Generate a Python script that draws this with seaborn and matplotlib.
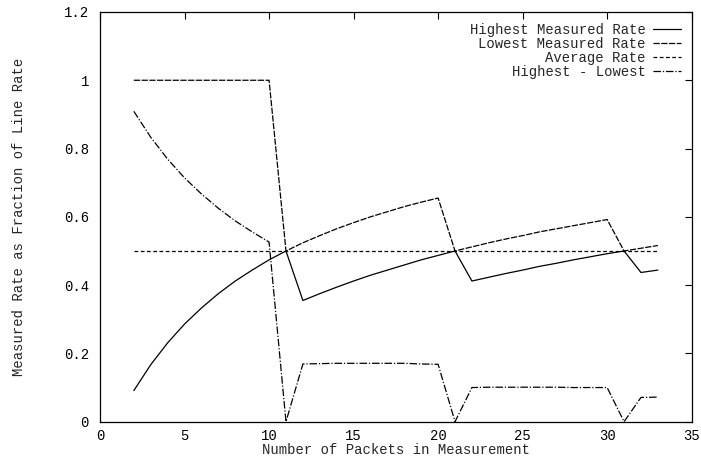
"""
Measured rate vs. number of packets in the measurement.
"""

import matplotlib
matplotlib.use('Agg')
import matplotlib.pyplot as plt
import seaborn as sns
import pandas as pd

# Data (labels as the legend shows them)
packets = list(range(2, 34))

highest_rate = [0.091, 0.167, 0.231, 0.286, 0.333, 0.375, 0.412, 0.444, 0.474, 0.500,
                0.355, 0.375, 0.394, 0.412, 0.429, 0.444, 0.459, 0.474, 0.487, 0.500,
                0.412, 0.423, 0.434, 0.444, 0.455, 0.464, 0.474, 0.483, 0.492, 0.500,
                0.437, 0.444]
lowest_rate = [1.0, 1.0, 1.0, 1.0, 1.0, 1.0, 1.0, 1.0, 1.0, 0.500,
               0.524, 0.545, 0.565, 0.583, 0.600, 0.615, 0.630, 0.643, 0.655, 0.500,
               0.512, 0.524, 0.535, 0.545, 0.556, 0.565, 0.574, 0.583, 0.592, 0.500,
               0.508, 0.516]
average_rate = [0.5] * 32
difference = [0.909, 0.833, 0.769, 0.714, 0.667, 0.625, 0.588, 0.556, 0.526, 0.0,
              0.169, 0.170, 0.171, 0.171, 0.171, 0.171, 0.171, 0.169, 0.168, 0.0,
              0.100, 0.101, 0.101, 0.101, 0.101, 0.101, 0.100, 0.100, 0.100, 0.0,
              0.071, 0.072]

x_ticks = [0, 5, 10, 15, 20, 25, 30, 35]
y_ticks = [0, 0.2, 0.4, 0.6, 0.8, 1.0, 1.2]
y_tick_labels = ['0', '0.2', '0.4', '0.6', '0.8', '1', '1.2']

df = pd.DataFrame({
    'packets': packets,
    'highest': highest_rate,
    'lowest': lowest_rate,
    'average': average_rate,
    'diff': difference,
})

sns.set_style('white')
plt.rcParams['font.family'] = ['Liberation Mono', 'DejaVu Sans Mono']

fig = plt.figure(figsize=(7.01, 4.59), dpi=100)
ax = fig.add_axes([0.1427, 0.0813, 0.844, 0.8926])

series = [
    ('highest', 'Highest Measured Rate', None),
    ('lowest', 'Lowest Measured Rate', (0, (5, 1.2))),
    ('average', 'Average Rate', (0, (3, 2))),
    ('diff', 'Highest - Lowest', (0, (6, 1.5, 1, 1.5))),
]
for col, label, dashes in series:
    line = sns.lineplot(data=df, x='packets', y=col, ax=ax, color='black',
                        linewidth=0.9, label=label)
    if dashes is not None:
        line.get_lines()[-1].set_linestyle(dashes)

ax.set_xlim(0, 35)
ax.set_ylim(0, 1.2)
ax.set_xticks(x_ticks)
ax.set_xticklabels([str(t) for t in x_ticks])
ax.set_yticks(y_ticks)
ax.set_yticklabels(y_tick_labels)
ax.tick_params(direction='in', length=5, width=0.8, top=True, right=True,
               labelsize=10, pad=8, colors='black')
ax.tick_params(axis='x', pad=5)

ax.set_xlabel('Number of Packets in Measurement', fontsize=10, labelpad=0)
ax.set_ylabel('Measured Rate as Fraction of Line Rate', fontsize=10, labelpad=27)

for spine in ax.spines.values():
    spine.set_color('black')
    spine.set_linewidth(0.9)

ax.legend(loc='upper right', frameon=False, markerfirst=False, fontsize=10,
          handlelength=2.0, handletextpad=0.5, labelspacing=0.0,
          borderaxespad=0.4)

plt.savefig('out.png', dpi=100)
plt.close()
